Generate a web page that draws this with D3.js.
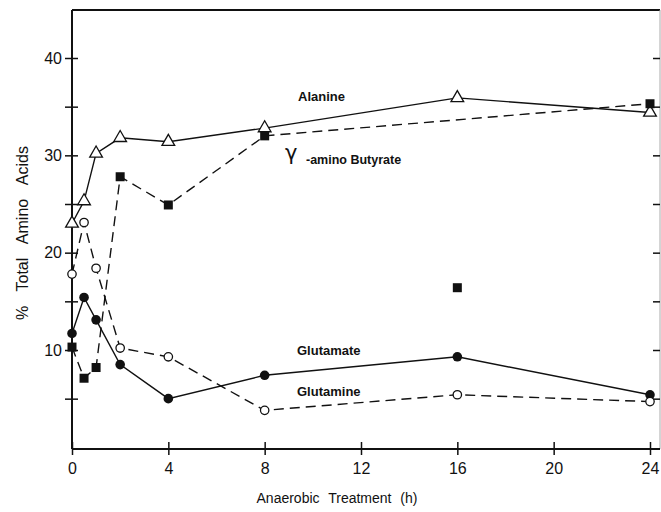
<!DOCTYPE html>
<html>
<head>
<meta charset="utf-8">
<script src="https://cdn.jsdelivr.net/npm/d3@7"></script>
<style>
  body { margin: 0; background: #fff; }
  svg { display: block; }
  text { font-family: "Liberation Sans", Arial, sans-serif; fill: #111; }
</style>
</head>
<body>
<div id="chart"></div>
<script>

let svgWidth = 661;
let svgHeight = 512;

// hours of anaerobic treatment
let hours = [0, 0.5, 1, 2, 4, 8, 16, 24];

// % of total amino acids
let alanine   = [23.0, 25.3, 30.2, 31.8, 31.4, 32.8, 35.9, 34.4];
let glutamate = [11.7, 15.4, 13.1, 8.5, 5.0, 7.4, 9.3, 5.4];
let glutamine = [17.8, 23.1, 18.4, 10.2, 9.3, 3.8, 5.4, 4.7];
// gamma-aminobutyrate: the 16 h point is plotted on its own, not on the line
let gabaHours = [0, 0.5, 1, 2, 4, 8, 24];
let gaba      = [10.3, 7.1, 8.2, 27.8, 24.9, 32.0, 35.3];
let gabaLoose = [{h: 16, v: 16.4}];

let xTicks = [0, 4, 8, 12, 16, 20, 24];
let yTicks = [5, 10, 15, 20, 25, 30, 35, 40];

let svg = d3.select("#chart")
  .append("svg")
    .attr("width", svgWidth)
    .attr("height", svgHeight);

let x = d3.scaleLinear().domain([0, 24]).range([72, 650]);
let y = d3.scaleLinear().domain([10, 40]).range([350, 58]);

let plotLeft = 72, plotBottom = 449, plotTop = 10, plotRight = 660;

// frame
svg.append("line").attr("x1", plotLeft).attr("x2", plotRight).attr("y1", plotTop).attr("y2", plotTop)
  .attr("stroke", "#111").attr("stroke-width", 2);
svg.append("line").attr("x1", plotRight).attr("x2", plotRight).attr("y1", plotTop).attr("y2", plotBottom)
  .attr("stroke", "#aaa").attr("stroke-width", 1);

// left axis, ticks crossing the line
let yAxis = svg.append("g")
  .attr("transform", "translate(" + plotLeft + ",0)")
  .call(d3.axisLeft(y).tickValues(yTicks).tickSize(0).tickPadding(10)
    .tickFormat(d => d % 10 === 0 ? d : ""));
yAxis.select(".domain").remove();
yAxis.selectAll(".tick line").attr("x1", -7).attr("x2", 6).attr("stroke", "#111").attr("stroke-width", 1.5);
yAxis.selectAll(".tick text").style("font-size", "16px").attr("fill", "#111");
svg.append("line").attr("x1", plotLeft).attr("x2", plotLeft).attr("y1", plotTop).attr("y2", plotBottom)
  .attr("stroke", "#111").attr("stroke-width", 2);

// right side ticks only
let yAxisR = svg.append("g")
  .attr("transform", "translate(" + plotRight + ",0)")
  .call(d3.axisLeft(y).tickValues(yTicks).tickSize(7).tickFormat(""));
yAxisR.select(".domain").remove();
yAxisR.selectAll(".tick line").attr("stroke", "#111").attr("stroke-width", 1.5);

// bottom axis
let xAxis = svg.append("g")
  .attr("transform", "translate(0," + plotBottom + ")")
  .call(d3.axisBottom(x).tickValues(xTicks).tickSize(0).tickPadding(14));
xAxis.select(".domain").remove();
xAxis.selectAll(".tick line").attr("y1", -7).attr("y2", 6).attr("stroke", "#111").attr("stroke-width", 1.5);
xAxis.selectAll(".tick text").style("font-size", "16px").attr("fill", "#111");
svg.append("line").attr("x1", plotLeft).attr("x2", plotRight).attr("y1", plotBottom).attr("y2", plotBottom)
  .attr("stroke", "#111").attr("stroke-width", 2);

// axis titles
svg.append("text")
  .attr("x", 337).attr("y", 503)
  .attr("text-anchor", "middle")
  .style("font-size", "14px").style("word-spacing", "5px")
  .text("Anaerobic Treatment (h)");
svg.append("text")
  .attr("transform", "translate(28,233) rotate(-90)")
  .attr("text-anchor", "middle")
  .style("font-size", "16px").style("word-spacing", "10px")
  .text("% Total Amino Acids");

function zip(hs, vs){
  return hs.map((h, i) => ({h: h, v: vs[i]}));
}

let line = d3.line().x(d => x(d.h)).y(d => y(d.v));

function drawSeries(data, dashed){
  svg.append("path")
    .datum(data)
    .attr("d", line)
    .attr("fill", "none")
    .attr("stroke", "#111")
    .attr("stroke-width", 1.4)
    .attr("stroke-dasharray", dashed ? "10,6" : null);
}

let alaData = zip(hours, alanine);
let gluData = zip(hours, glutamate);
let glnData = zip(hours, glutamine);
let gabaData = zip(gabaHours, gaba);

drawSeries(gabaData, true);
drawSeries(glnData, true);
drawSeries(alaData, false);
drawSeries(gluData, false);

// markers
let tri = d3.symbol().type(d3.symbolTriangle).size(70);
svg.append("g").selectAll("path").data(alaData).enter()
  .append("path")
  .attr("d", tri)
  .attr("transform", d => "translate(" + x(d.h) + "," + y(d.v) + ")")
  .attr("fill", "#fff").attr("stroke", "#111").attr("stroke-width", 1.3);

svg.append("g").selectAll("rect").data(gabaData.concat(gabaLoose)).enter()
  .append("rect")
  .attr("x", d => x(d.h) - 4.5).attr("y", d => y(d.v) - 4.5)
  .attr("width", 9).attr("height", 9)
  .attr("fill", "#111");

svg.append("g").selectAll("circle").data(gluData).enter()
  .append("circle")
  .attr("cx", d => x(d.h)).attr("cy", d => y(d.v)).attr("r", 4.8)
  .attr("fill", "#111");

svg.append("g").selectAll("circle").data(glnData).enter()
  .append("circle")
  .attr("cx", d => x(d.h)).attr("cy", d => y(d.v)).attr("r", 4.2)
  .attr("fill", "#fff").attr("stroke", "#111").attr("stroke-width", 1.3);

// series labels
function label(px, py, txt){
  return svg.append("text")
    .attr("x", px).attr("y", py)
    .style("font-size", "13px").style("font-weight", "bold")
    .text(txt);
}
label(298, 101, "Alanine");
label(297, 355, "Glutamate");
label(297, 396, "Glutamine");
svg.append("text")
  .attr("x", 285).attr("y", 160)
  .style("font-size", "21px").style("font-family", "DejaVu Sans")
  .text("γ");
label(306, 164, "-amino Butyrate").style("font-size", "12.5px");

</script>
</body>
</html>
